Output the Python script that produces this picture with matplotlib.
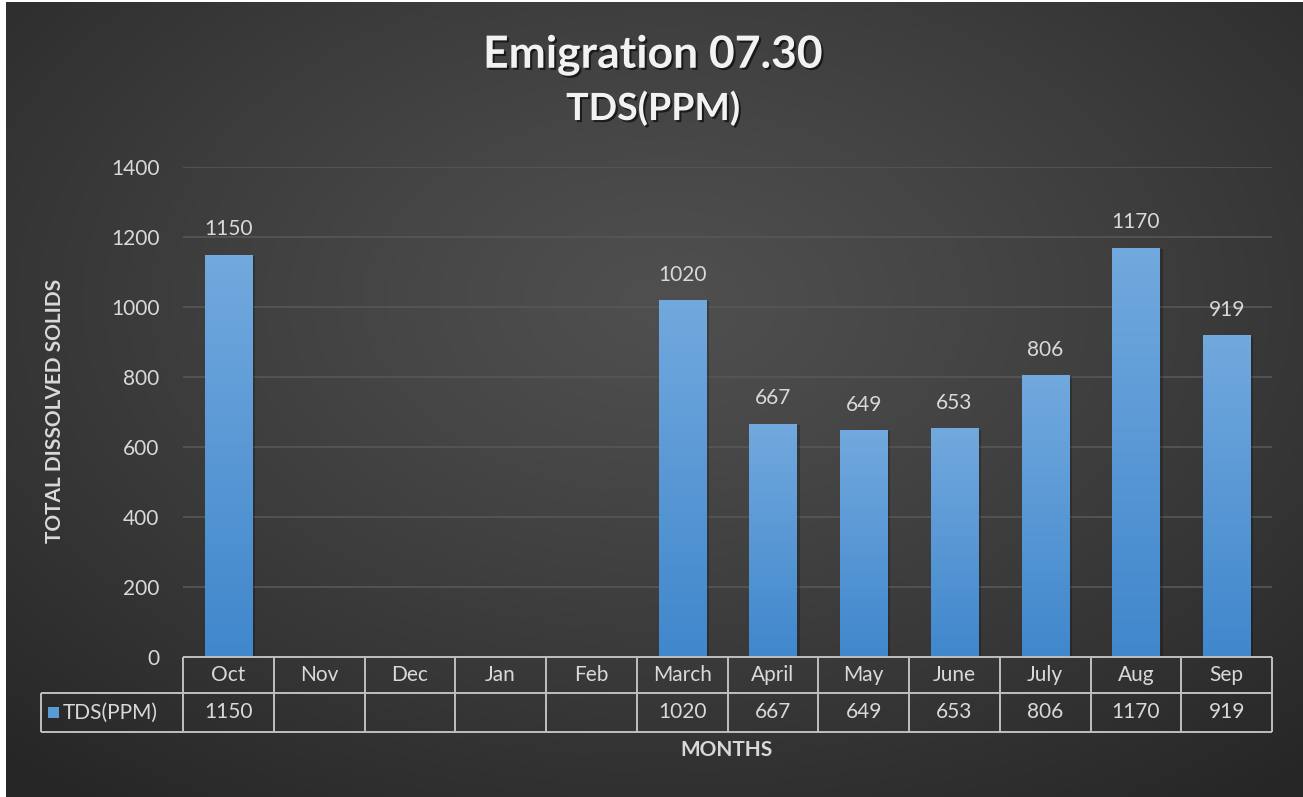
import numpy as np
import matplotlib
matplotlib.use("Agg")
import matplotlib.pyplot as plt
import matplotlib.patheffects as pe
from matplotlib.patches import Rectangle

months = ["Oct", "Nov", "Dec", "Jan", "Feb", "March", "April", "May", "June", "July", "Aug", "Sep"]
tds = [1150, None, None, None, None, 1020, 667, 649, 653, 806, 1170, 919]
series_name = "TDS(PPM)"
title = "Emigration 07.30"
subtitle = "TDS(PPM)"
ylabel = "TOTAL DISSOLVED SOLIDS"
xlabel = "MONTHS"
yticks = [0, 200, 400, 600, 800, 1000, 1200, 1400]

FONT = "Lato"
W, H = 1303, 797
fig = plt.figure(figsize=(W / 100, H / 100), dpi=100)
fig.patch.set_facecolor("white")

# background radial gradient
bg = fig.add_axes([6 / W, 0, 1 - 6 / W, 1 - 2 / H])
bg.set_axis_off()
yy, xx = np.mgrid[0:400, 0:650]
cx, cy = 330, 150
r = np.sqrt(((xx - cx) / 650) ** 2 + ((yy - cy) / 420) ** 2)
r = np.clip(r / 0.75, 0, 1)
v = 0.31 - 0.16 * r ** 1.2
img = np.dstack([v, v, v])
bg.imshow(img, extent=[0, 1, 0, 1], aspect="auto", origin="upper", interpolation="bilinear")
bg.set_xlim(0, 1)
bg.set_ylim(0, 1)

L, R, T, B = 183, 1272, 167, 657
ax = fig.add_axes([L / W, 1 - B / H, (R - L) / W, (B - T) / H])
ax.patch.set_alpha(0)
x = np.arange(len(months))
vals = np.array([np.nan if v is None else v for v in tds], dtype=float)

TXT = 15
ax.set_xlim(-0.5, len(months) - 0.5)
ax.set_ylim(0, 1400)
ax.set_yticks(yticks)
ax.set_yticklabels([str(t) for t in yticks], fontsize=TXT, color="#d9d9d9", family=FONT)
ax.tick_params(axis="y", length=0, pad=17)
ax.tick_params(axis="x", length=0, labelbottom=False)
ax.grid(axis="y", color="#575757", linewidth=1.2)
ax.set_axisbelow(True)
for s in ax.spines.values():
    s.set_visible(False)

bw = 0.52
grad = np.linspace(0, 1, 256).reshape(-1, 1)
top = np.array([0x72, 0xa9, 0xde]) / 255
bot = np.array([0x40, 0x87, 0xcc]) / 255
gimg = (top[None, None, :] * (1 - grad[:, :, None]) + bot[None, None, :] * grad[:, :, None])
bars = ax.bar(x, np.nan_to_num(vals), width=bw, color="none", edgecolor="none", zorder=3)
for b, vv in zip(bars, vals):
    if np.isnan(vv):
        continue
    sh = Rectangle((b.get_x() + 0.035, 0), b.get_width(), vv - 4, transform=ax.transData,
                   facecolor="black", alpha=0.22, zorder=2, linewidth=0)
    ax.add_patch(sh)
    im = ax.imshow(gimg, extent=[b.get_x(), b.get_x() + b.get_width(), 0, vv],
                   aspect="auto", origin="upper", zorder=3, interpolation="bilinear")
    im.set_clip_path(b)
    ax.text(b.get_x() + b.get_width() / 2, vv + 72, f"{int(vv)}", ha="center", va="center",
            fontsize=TXT, color="#d9d9d9", family=FONT, zorder=4)

# data table
ppu = (B - T) / 1400.0
row1 = -(693 - B) / ppu
row2 = -(732 - B) / ppu
cw = (R - L) / len(months)
xleft = -0.5 - (L - 41) / cw
lc = "#bfbfbf"
lw = 1.4
kw = dict(color=lc, linewidth=lw, clip_on=False, zorder=5, solid_capstyle="butt")
ax.plot([-0.5, len(months) - 0.5], [0, 0], **kw)
ax.plot([xleft, len(months) - 0.5], [row1, row1], **kw)
ax.plot([xleft, len(months) - 0.5], [row2, row2], **kw)
ax.plot([xleft, xleft], [row1, row2], **kw)
for i in range(len(months) + 1):
    xv = i - 0.5
    ax.plot([xv, xv], [0, row2], **kw)
for i, m in enumerate(months):
    ax.text(i, row1 / 2, m, ha="center", va="center", fontsize=TXT, color="#d9d9d9",
            family=FONT, clip_on=False)
    if not np.isnan(vals[i]):
        ax.text(i, (row1 + row2) / 2, f"{int(vals[i])}", ha="center", va="center",
                fontsize=TXT, color="#d9d9d9", family=FONT, clip_on=False)
# legend key in table
fig.patches.append(Rectangle((48 / W, 1 - 718 / H), 11 / W, 11 / H, transform=fig.transFigure,
                             facecolor="#5b9bd5", edgecolor="none"))
fig.text(63 / W, 1 - 713 / H, series_name, ha="left", va="center", fontsize=TXT,
         color="#d9d9d9", family=FONT)

# labels
fig.text(55 / W, 1 - 411 / H, ylabel, rotation=90, ha="center", va="center",
         fontsize=15, fontweight="bold", color="#d9d9d9", family=FONT)
fig.text(727 / W, 1 - 750 / H, xlabel, ha="center", va="center",
         fontsize=15, fontweight="bold", color="#d9d9d9", family=FONT)

shadow = [pe.withSimplePatchShadow(offset=(1.5, -1.5), shadow_rgbFace="black", alpha=0.6)]
fig.text(653 / W, 1 - 55 / H, title, ha="center", va="center", fontsize=32,
         fontweight="bold", color="#f2f2f2", family=FONT, path_effects=shadow)
fig.text(653 / W, 1 - 108 / H, subtitle, ha="center", va="center", fontsize=27,
         fontweight="bold", color="#f2f2f2", family=FONT, path_effects=shadow)

fig.savefig("out.png", dpi=100, facecolor=fig.get_facecolor())
